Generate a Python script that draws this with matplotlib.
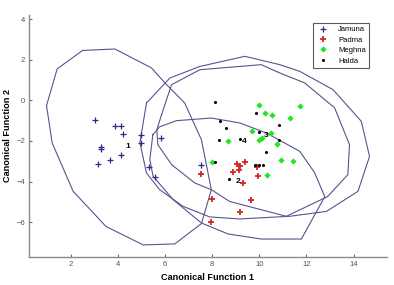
import matplotlib
matplotlib.use("Agg")
import matplotlib.pyplot as plt
import numpy as np

plt.rcParams['font.family'] = ['Liberation Sans', 'DejaVu Sans']

# group scores on the two canonical functions
jamuna_x = [3.03, 3.89, 4.13, 4.23, 3.27, 3.27, 4.14, 3.67, 3.17, 4.97, 4.97, 5.83, 5.33, 5.60, 7.52]
jamuna_y = [-0.98, -1.28, -1.28, -1.64, -2.28, -2.38, -2.69, -2.94, -3.13, -1.69, -2.10, -1.84, -3.28, -3.79, -3.20]

padma_x = [7.55, 9.06, 9.17, 9.39, 8.89, 9.14, 9.91, 9.95, 9.31, 8.00, 9.65, 9.17, 7.94]
padma_y = [-3.63, -3.15, -3.22, -3.04, -3.53, -3.41, -3.28, -3.74, -4.07, -4.86, -4.91, -5.50, -5.99]

meghna_x = [9.99, 10.23, 10.56, 11.29, 11.75, 9.71, 10.50, 10.00, 10.12, 8.68, 10.77, 8.00, 10.91, 11.43, 10.34]
meghna_y = [-0.23, -0.64, -0.70, -0.87, -0.30, -1.53, -1.61, -1.95, -1.85, -2.02, -2.15, -3.05, -2.96, -3.00, -3.66]

halda_x = [8.13, 9.86, 10.84, 8.33, 8.58, 9.98, 8.30, 9.19, 10.84, 10.30, 8.11, 9.81, 9.99, 10.16, 8.72]
halda_y = [-0.06, -0.62, -1.21, -1.00, -1.38, -1.56, -1.97, -1.92, -1.97, -2.56, -3.05, -3.17, -3.17, -3.17, -3.86]

# group centroid labels
cent_labels = ['1', '2', '3', '4']
cent_x = [4.44, 9.10, 10.28, 9.36]
cent_y = [-2.27, -3.99, -1.74, -2.05]

# outlines around the groups
poly_a_x = [0.98, 1.43, 2.51, 3.88, 5.43, 6.00, 6.84, 7.55, 7.97, 7.55, 6.42, 5.08, 3.50, 2.11, 1.22]
poly_a_y = [-0.26, 1.55, 2.46, 2.53, 1.60, 0.86, -0.13, -1.94, -4.40, -6.07, -7.07, -7.12, -6.21, -4.48, -2.10]

poly_b_x = [5.22, 6.21, 7.48, 9.39, 10.87, 11.72, 13.13, 14.33, 14.68, 14.19, 12.85, 11.29, 9.17, 7.90, 6.77, 5.78, 5.22, 4.94]
poly_b_y = [-0.13, 1.10, 1.67, 2.17, 1.76, 1.43, 0.53, -1.03, -2.76, -4.48, -5.47, -5.71, -5.84, -5.74, -5.22, -4.40, -3.58, -2.08]

poly_c_x = [5.86, 6.28, 7.48, 10.09, 10.87, 11.93, 13.20, 13.83, 13.76, 12.90, 11.15, 8.75, 7.97, 7.27, 6.29, 5.70, 5.66]
poly_c_y = [-0.70, 0.77, 1.51, 1.76, 1.35, 0.86, -0.37, -2.18, -3.66, -4.74, -5.71, -4.98, -4.40, -4.07, -3.17, -2.18, -1.44]

poly_d_x = [5.49, 5.78, 6.49, 7.97, 9.17, 10.31, 11.72, 12.35, 12.78, 11.79, 10.09, 8.68, 7.55, 6.35, 5.50, 5.36]
poly_d_y = [-1.69, -1.30, -1.00, -0.87, -1.11, -1.61, -2.51, -3.56, -4.74, -6.83, -6.83, -6.58, -6.04, -4.89, -3.74, -2.92]

line_col = '#55558f'

fig = plt.figure(figsize=(3.94, 2.85), dpi=100)
ax = fig.add_axes([0.0744, 0.0993, 0.9066, 0.8477])

for px, py in [(poly_a_x, poly_a_y), (poly_b_x, poly_b_y), (poly_c_x, poly_c_y), (poly_d_x, poly_d_y)]:
    ax.plot(px + px[:1], py + py[:1], color=line_col, lw=0.8)

ax.plot(jamuna_x, jamuna_y, '+', color='#2a2a8a', ms=4.5, mew=0.9, label='Jamuna')
ax.plot(padma_x, padma_y, '+', color='#d42525', ms=4.5, mew=1.3, label='Padma')
ax.plot(meghna_x, meghna_y, 'D', color='#22e622', ms=3.2, mew=0, label='Meghna')
ax.plot(halda_x, halda_y, '.', color='black', ms=2.4, label='Halda')

for t, cx, cy in zip(cent_labels, cent_x, cent_y):
    ax.text(cx, cy, t, fontsize=6, fontweight='bold', ha='center', va='center')

ax.set_xlim(0.25, 15.4)
ax.set_ylim(-7.7, 4.2)
ax.set_xticks(np.arange(2, 15, 2))
ax.set_yticks(np.arange(-6, 5, 2))
for s in ['top', 'right']:
    ax.spines[s].set_visible(False)
for s in ['left', 'bottom']:
    ax.spines[s].set_color('#8a8a8a')
    ax.spines[s].set_linewidth(1.0)
ax.tick_params(direction='in', length=2.5, width=0.8, color='#6a6a6a',
               labelsize=5.5, labelcolor='#555555', pad=3)

ax.set_xlabel('Canonical Function 1', fontsize=6.6, fontweight='bold', labelpad=4)
ax.set_ylabel('Canonical Function 2', fontsize=6.6, fontweight='bold', labelpad=3)

leg = ax.legend(loc='upper right', bbox_to_anchor=(0.963, 0.985), fontsize=5.5,
                frameon=True, fancybox=False, edgecolor='#333333',
                handlelength=1.6, borderpad=0.45, labelspacing=0.4, handletextpad=1.2)
leg.get_frame().set_linewidth(0.8)

fig.savefig('out.png', dpi=100)
